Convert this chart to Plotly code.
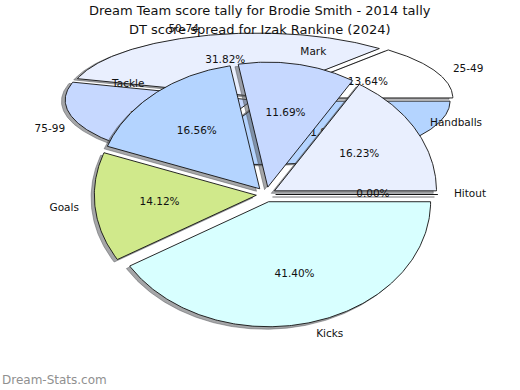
import numpy as np
import plotly.graph_objects as go

# ---------------- data ----------------
title_main = "Dream Team score tally for Brodie Smith - 2014 tally"
title_sub = "DT score spread for Izak Rankine (2024)"
watermark = "Dream-Stats.com"

# back pie: games per DT score range (Brodie Smith 2014)
back_labels = ["25-49", "50-74", "75-99", "100-124"]
back_values = [3, 7, 5, 7]
back_colors = ["#ffffff", "#e9effe", "#c6d8ff", "#b4d4ff"]

# front pie: DT score spread (Izak Rankine 2024), percent of points
front_labels = ["Hitout", "Handballs", "Mark", "Tackle", "Goals", "Kicks"]
front_values = [0.00, 16.23, 11.69, 16.56, 14.12, 41.40]
front_colors = ["#ffffff", "#e9effe", "#c6d8ff", "#b4d4ff", "#d0e98b", "#d8ffff"]

# ---------------- geometry / style ----------------
BACK = dict(cx=259.0, cy=99.0, rx=187.0, ry=63.5, explode=0.04)
FRONT = dict(cx=266.0, cy=194.5, rx=162.0, ry=125.0, explode=0.06)
FONT = "DejaVu Sans, Arial, sans-serif"
EDGE_W = 0.9

fig = go.Figure()


def pie_traces(labels, values, colors, g):
    total = float(sum(values))
    cx, cy, rx, ry, e = g["cx"], g["cy"], g["rx"], g["ry"], g["explode"]
    cum = 0.0
    wedges, shadows, texts = [], [], []
    for lab, val, col in zip(labels, values, colors):
        t1 = 360.0 * cum / total
        t2 = 360.0 * (cum + val) / total
        cum += val
        tm = np.radians((t1 + t2) / 2.0)
        ox = cx + e * rx * np.cos(tm)
        oy = cy - e * ry * np.sin(tm)
        n = max(2, int(abs(t2 - t1) * 1.5) + 2)
        ts = np.radians(np.linspace(t1, t2, n))
        xs = np.concatenate([[ox], ox + rx * np.cos(ts), [ox]])
        ys = np.concatenate([[oy], oy - ry * np.sin(ts), [oy]])
        shadows.append(go.Scatter(
            x=xs - 0.02 * rx, y=ys + 0.02 * ry, mode="lines", fill="toself",
            fillcolor="rgba(75,77,82,0.5)",
            line=dict(color="rgba(75,77,82,0.5)", width=EDGE_W),
            hoverinfo="skip", showlegend=False))
        wedges.append(go.Scatter(
            x=xs, y=ys, mode="lines", fill="toself", fillcolor=col,
            line=dict(color="#111111", width=EDGE_W),
            hoverinfo="skip", showlegend=False))
        # outer label
        lx = ox + 1.1 * rx * np.cos(tm)
        ly = oy - 1.1 * ry * np.sin(tm)
        pos = "middle right" if np.cos(tm) >= 0 else "middle left"
        texts.append(go.Scatter(
            x=[lx], y=[ly], mode="text", text=[lab], textposition=pos,
            textfont=dict(family=FONT, size=10.5, color="#111111"),
            hoverinfo="skip", showlegend=False))
        # percentage label
        px = ox + 0.6 * rx * np.cos(tm)
        py = oy - 0.6 * ry * np.sin(tm)
        texts.append(go.Scatter(
            x=[px], y=[py], mode="text", text=[f"{100.0 * val / total:.2f}%"],
            textposition="middle center",
            textfont=dict(family=FONT, size=10.5, color="#111111"),
            hoverinfo="skip", showlegend=False))
    return shadows + wedges + texts


for tr in pie_traces(back_labels, back_values, back_colors, BACK):
    fig.add_trace(tr)
for tr in pie_traces(front_labels, front_values, front_colors, FRONT):
    fig.add_trace(tr)

fig.update_layout(
    width=520, height=390,
    margin=dict(l=0, r=0, t=0, b=0),
    paper_bgcolor="white", plot_bgcolor="white",
    xaxis=dict(range=[0, 520], visible=False, fixedrange=True),
    yaxis=dict(range=[390, 0], visible=False, fixedrange=True),
    showlegend=False,
    annotations=[
        dict(text=title_main, x=260, y=10.5, xref="x", yref="y",
             xanchor="center", yanchor="middle", showarrow=False,
             font=dict(family=FONT, size=13, color="#111111")),
        dict(text=title_sub, x=260, y=29.5, xref="x", yref="y",
             xanchor="center", yanchor="middle", showarrow=False,
             font=dict(family=FONT, size=13, color="#111111")),
        dict(text=watermark, x=0, y=380, xref="x", yref="y",
             xanchor="left", yanchor="middle", showarrow=False,
             font=dict(family=FONT, size=12, color="#909090")),
    ],
)

fig.write_html(
    "out.html",
    config={"displayModeBar": False, "staticPlot": True},
    post_script="document.body.style.margin='0';document.body.style.overflow='hidden';",
)
